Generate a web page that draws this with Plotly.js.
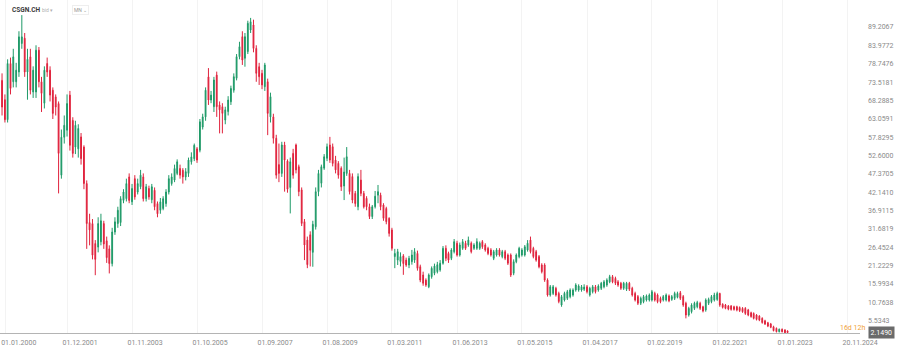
<!DOCTYPE html>
<html><head><meta charset="utf-8">
<script src="https://cdn.plot.ly/plotly-3.0.1.min.js"></script>
<style>html,body{margin:0;padding:0;background:#fff}#chart{width:900px;height:352px}</style>
</head><body><div id="chart"></div>
<script>
// Monthly candles, first candle = January 2000
const startYear = 2000;
const openP = [
74,68.5,62.8,78.8,73.6,73.6,76.4,84.5,86,76.4,
80.7,70.7,70.7,82.6,73.6,67.5,78.8,76.9,71.2,69.3,
67.4,47,57.8,59.8,69.8,62.6,55,54.5,57.9,55,
44.6,33.5,33.2,27.5,26.5,28,33.2,28.3,26,21.8,
30.8,33.2,33.5,39.8,40.3,46.5,39.4,46,42.2,43.7,
46.5,40.3,43.2,40,42.7,38.9,37,37.5,38.9,42.2,
44.6,45.6,47.5,48.9,48.4,46.5,47.5,50.8,51.7,54.5,
54.1,60.7,63.6,75,68.4,66.5,75.5,67,66.5,62.7,
65.1,67.9,71.2,74.6,80.75,86.45,80.3,82.2,88.35,89.8,
83.1,77.9,76,72.2,73.6,63.6,63.6,57.5,50,47.5,
55.6,51,43.5,53.2,55.6,49.4,42.8,33.75,28.5,30,
25,32.3,42.3,44.7,49,51.8,55.6,55.1,51.3,50.35,
48.95,43.9,47.5,47.5,46.6,41.8,38,45.6,41.8,40.4,
38,35.2,38,41.3,41.3,38.5,37.5,34.7,31.4,23.8,
22.8,22.4,24,22.8,21.4,22.35,22.8,24.7,20.9,18.55,
17.1,15.2,18.08,19.05,19.5,20,21.9,26.15,24.7,23.3,
25.2,27.6,24.25,26.15,27.6,27.1,27.6,26.15,26.15,26.15,
28.05,27.1,26.15,25.7,23.3,24.25,25.7,23.8,25.2,24.25,
24.25,19.05,22.35,23.77,24.25,24.25,25.68,28.5,26.15,25.2,
23.8,21.4,21.4,17.1,12.85,13.3,14.75,13.3,10,11.43,
11.9,12.38,12.85,14.28,14.28,14.28,14.5,15.2,12.85,13.8,
15.2,14.28,14.75,15.2,15.7,16.6,18.08,17.6,16.6,16.2,
14.75,14.5,16.2,14.75,13.3,12.4,10.5,10.95,11.43,11.43,
11.43,13.3,12.85,11.9,11.43,11.43,12.6,11.6,11.9,12.2,
13.5,12.4,10.5,7.15,8.1,9.05,9.5,10.5,9.5,8.6,
10.5,10.95,11.43,11.6,13.3,10.2,10,9.7,9.7,9.5,
9.5,9.3,9.05,9.05,8.6,7.8,7.6,7.15,6.85,6.2,
5.5,4.95,4.6,3.8,3.35,2.4,3.1,2.9,2.6];
const highP = [
76,70,80,80.5,83,79,88,92.6,87.5,83,
83,78,84,83.5,75,78,80.5,78,72,70,
68,60,64,70,71,63.5,62.5,61.5,59,55.5,
45.5,36,34.5,28.5,35,36,34,29.5,27,32,
35,38,41,43,46,47.5,44.5,47,46,48.5,
47.5,44.5,44,44.5,43.5,39.5,40.5,41,43,47,
47.5,50,51.5,50,49,49,52,53.5,56,55,
63,64.5,72,77.5,71,75,76.5,68,67.5,66.5,
69.5,72.5,76,81.5,85,88,87.5,91,91.8,91.3,
84,79,77,79,74.5,70.5,64.5,58.5,56,56.5,
56.5,51.5,52,54.5,56,50,43.5,34.5,29.5,31,
34,43.5,48.5,50,53,56,57.9,56,52.5,51,
49.5,52,55,48.5,47.5,42.5,47.5,48.5,42.5,41,
38.9,38.5,42.5,44.2,42,39,38,35,32,26,
26,25,24.5,23.5,24,25.7,26.2,25.5,21.5,19.5,
17.6,19,21,21.8,22.3,22.8,26.8,27,25.2,26.2,
28.8,28.3,27.8,28.8,28.3,29.5,28.1,27.6,29,28.1,
28.5,27.6,26.6,26.2,25.7,26.2,26.2,25.7,25.7,24.7,
24.7,23,24.7,26.6,26.2,27.1,28.5,29.5,26.6,25.7,
24.25,21.9,21.9,17.6,15.7,15.7,15.2,13.8,12.85,13.8,
14.3,14.75,14.75,16.2,15.9,15.7,15.9,15.7,15.2,15.7,
15.7,15.9,16.6,17.1,17.6,18.6,18.55,18.08,17.1,16.6,
16.6,16.6,16.6,15.2,13.8,12.85,12.4,12.85,13,13.3,
14.3,13.8,13.3,12.4,12.85,13.3,13,12.85,13.8,13.8,
14,12.85,10.95,9.5,10.5,10.95,11.2,10.95,9.8,11.9,
12.1,12.85,13.5,13.8,13.5,10.5,10.3,10,10,9.8,
9.8,9.6,9.4,9.4,8.9,8.1,7.9,7.4,7.1,6.5,
5.8,5.2,4.9,4.1,3.6,3.3,3.3,3.1,2.8];
const lowP = [
64,62,62,70,72,72,75,83,75,68.5,
70,69,69,72,65,66,75,68,63,64,
41.8,46,56,58,54,52,53,52,50,43,
26,27,23,18.5,25,27,26,22,19,21,
30,32,32.5,39,39.5,39,38.5,40,41.5,43,
39.5,39.5,40,39,37,35,36,37,38,41.5,
44,45,47,46,44.6,45.5,46.5,50,51,50.5,
53.5,60,62.5,67,67.5,65,63.6,58.9,58.9,61.5,
64,67,70.5,74,80,78.4,77.9,81.5,87.5,82,
73.6,72.7,71.5,71,58.4,62,56,46,45,46.5,
42.3,42,36.1,46,47.5,41,32.5,22.8,20.5,21,
20.9,31.5,41,43.5,48.5,51,50.5,49.5,47.5,46,
42.5,39.9,46.8,41.5,39,38,37,41,37.5,37,
34.5,34.5,37.5,39,37,34,33,29.5,25.5,20.5,
21.4,21,18.6,20.9,20.5,21.5,22,19.8,16.5,15.5,
15.2,14.8,17.5,18.5,19,19.5,21.5,22.5,22,22.8,
24.7,23.8,23.8,25.7,25.7,26.6,24.7,25.7,25.7,25.7,
26,25.2,24.2,23.8,22.8,23.8,23.8,23.3,22.8,21.4,
18,18.5,21.9,23.3,23.8,23.8,25.2,24.7,23.3,22.35,
20.45,19,16.6,12.4,12.4,12.85,12.4,10.5,9.5,11,
11.43,11.9,12.38,13.8,13.8,13.8,14,13.3,12.4,13.3,
13.3,13.8,14.28,14.75,15.2,16.2,16.2,15.7,15.2,14.3,
14.3,14,14,12.4,11,10,10,10.5,11,11,
11,11,10.5,10.5,11,11,10.8,11.2,11.43,11.9,
11.43,9.5,6.2,6.7,7.6,8.6,9.05,8.6,7.9,8.1,
10,10.5,11,11.2,9.5,9,8.8,8.5,8.4,8.4,
8.2,8,7.8,7.2,6.8,6.4,5.9,5.6,5.4,4.7,
4.3,3.7,3.4,2.5,2.2,2.2,2.2,2,2.0];
const closeP = [
66.4,62.8,78.8,71.7,80.7,76.9,86.4,86.4,76.4,80,
71.2,76.9,82.6,73.6,70.3,76.9,76.4,69.8,64.6,66.4,
53.2,57.8,61.2,67.4,55.5,53.2,61.2,60.3,51.7,44.6,
33.2,31.4,24.2,23,33.2,34,27.4,23.5,21.8,30.8,
33.7,37,40.3,42.2,44.6,39.8,43.2,40.8,44.6,47,
40.3,43.7,40.8,43.7,38,36,39.4,40.3,42.2,46,
46.5,48.9,50.8,47,46.5,48,51.3,52.2,55.5,51.3,
62.2,63.6,71.2,68.4,69.8,74.1,66.5,65.6,64.6,65.6,
68.4,71.7,75.05,80.75,83.6,79.8,86.45,90.25,90.7,83.1,
76,75.05,72.7,78.4,64.6,69.35,57.5,47,47.5,55.6,
51.3,43,50.8,47,48.5,42.3,33.25,27.1,21.5,25.6,
33,42.3,47.5,49.4,52.25,55.1,51.3,50.35,48.5,47,
43.7,47.9,52.25,42.3,39.9,38.9,46.6,41.8,38,38,
35.2,38,41,42.3,38,34.7,33.75,30.4,26.15,24.7,
25.2,23.8,21.8,21.4,23.3,24.25,25.2,20.45,17.1,16.2,
15.7,18.55,20.45,21.1,21.5,21.9,26.15,23.3,22.8,25.68,
28.05,24.25,27.1,28.05,26.15,28.5,25.2,27.1,28.05,27.6,
26.6,25.68,24.7,24.25,25.2,25.7,24.25,25.2,23.3,21.9,
18.55,22.35,24.25,26.15,25.68,26.6,27.6,25.2,23.8,22.8,
20.9,19.5,17.1,12.85,15.2,15.2,12.85,11,12.38,13.33,
13.8,14.28,14.28,15.7,15.4,15.2,15.1,13.8,14.75,15.2,
13.8,15.4,16.2,16.6,17.1,18.08,16.6,16.2,15.7,14.75,
16.2,16.2,14.5,12.85,11.43,10.5,11.9,12.4,12.6,12.85,
13.8,11.43,10.95,10.95,12.4,12.85,11.2,12.4,13.3,13.3,
11.9,10,7.15,9.05,10,10.5,10.7,9.05,8.3,11.43,
11.6,12.4,12.85,13.3,10,9.35,9.05,8.85,8.75,8.75,
8.6,8.4,8.1,7.6,7.15,6.7,6.2,5.9,5.7,5,
4.6,4,3.65,2.7,2.4,3.1,2.4,2.1,2.149];

// tick positions (first one nudged so its label stays inside the picture)
const xTickDates = ['2000-02-10','2001-12-01','2003-11-01','2005-10-01','2007-09-01','2009-08-01','2011-07-01',
  '2013-06-01','2015-05-01','2017-04-01','2019-03-01','2021-02-01','2023-01-01','2024-12-01'];
const xTickLabels = ['01.01.2000','01.12.2001','01.11.2003','01.10.2005','01.09.2007','01.08.2009','01.03.2011',
  '01.06.2013','01.05.2015','01.04.2017','01.02.2019','01.02.2021','01.01.2023','20.11.2024'];
const yTickValues = [89.2067,83.9772,78.7476,73.5181,68.2885,63.0591,57.8295,52.6000,47.3705,
  42.1410,36.9115,31.6819,26.4524,21.2229,15.9934,10.7638,5.5343];
const symbol = 'CSGN.CH';
const lastPrice = 2.1490;

const dates = openP.map((_, i) => {
  const y = startYear + Math.floor(i / 12);
  const m = (i % 12) + 1;
  return y + '-' + String(m).padStart(2, '0') + '-01';
});

const GREEN = '#1f9a68', RED = '#e0233d';
const tickFont = {family: 'Roboto, sans-serif', size: 7, color: '#8a8a8a'};

const trace = {
  type: 'candlestick', x: dates, open: openP, high: highP, low: lowP, close: closeP,
  increasing: {line: {color: GREEN, width: 1}, fillcolor: GREEN},
  decreasing: {line: {color: RED, width: 1}, fillcolor: RED},
  whiskerwidth: 0, hoverinfo: 'skip'
};

const layout = {
  width: 900, height: 352,
  margin: {l: 0, r: 40, t: 0, b: 19, pad: 0},
  paper_bgcolor: '#ffffff', plot_bgcolor: '#ffffff',
  showlegend: false,
  boxgap: 0.55,
  font: {family: 'Roboto, sans-serif'},
  xaxis: {
    type: 'date', range: ['1999-12-10', '2025-04-19'],
    tickmode: 'array', tickvals: xTickDates, ticktext: xTickLabels, tickangle: 0,
    showgrid: true, gridcolor: '#f3f3f3', gridwidth: 1,
    zeroline: false, showline: true, linecolor: '#b4b4b4', linewidth: 1,
    ticks: '', tickfont: tickFont, ticklabelshift: 13, ticklabelstandoff: 3,
    ticklabeloverflow: 'allow',
    rangeslider: {visible: false}, fixedrange: true
  },
  yaxis: {
    side: 'right', range: [2.03, 96.9],
    tickmode: 'array', tickvals: yTickValues, ticktext: yTickValues.map(v => v.toFixed(4)),
    showgrid: false, zeroline: false, showline: false,
    ticks: '', tickfont: tickFont, ticklabelstandoff: 7, fixedrange: true
  },
  annotations: [
    {xref: 'paper', yref: 'paper', x: 10/860, y: 1 - 10/333, xanchor: 'left', yanchor: 'middle',
     text: '<b>' + symbol + '</b>', showarrow: false, font: {family: 'Roboto, sans-serif', size: 6.5, color: '#3a3a3a'}},
    {xref: 'paper', yref: 'paper', x: 40/860, y: 1 - 10/333, xanchor: 'left', yanchor: 'middle',
     text: 'bid ▾', showarrow: false, font: {family: 'Roboto, sans-serif', size: 5, color: '#b0b0b0'}},
    {xref: 'paper', yref: 'paper', x: 72/860, y: 1 - 10/333, xanchor: 'left', yanchor: 'middle',
     text: 'MN ⌄', showarrow: false, bordercolor: '#eeeeee', borderwidth: 1, borderpad: 1,
     font: {family: 'Roboto, sans-serif', size: 5, color: '#999999'}},
    {xref: 'paper', yref: 'paper', x: 852/860, y: 1 - 328/333, xanchor: 'center', yanchor: 'middle',
     text: '16d 12h', showarrow: false, font: {family: 'Roboto, sans-serif', size: 7, color: '#f0a23a'}},
    {xref: 'paper', yref: 'y', x: 881/860, y: lastPrice, xanchor: 'center', yanchor: 'middle',
     text: lastPrice.toFixed(4), showarrow: false, bgcolor: '#6b6b6b', borderpad: 1.5,
     font: {family: 'Roboto, sans-serif', size: 7, color: '#ffffff'}}
  ]
};

Plotly.newPlot('chart', [trace], layout, {staticPlot: true, displayModeBar: false});
</script>
</body></html>
